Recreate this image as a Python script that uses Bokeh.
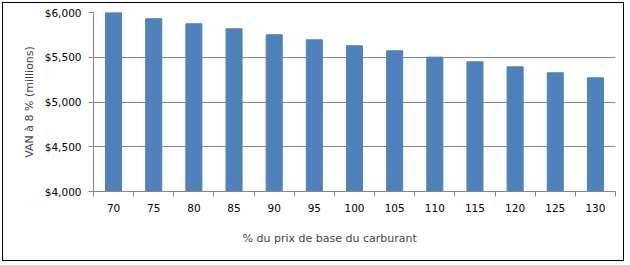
from bokeh.plotting import figure
from bokeh.models import FixedTicker, NumeralTickFormatter, Title, Range1d
from bokeh.embed import file_html
from bokeh.resources import INLINE

categories = ["70", "75", "80", "85", "90", "95", "100", "105", "110", "115", "120", "125", "130"]
van_values = [6000, 5930, 5874, 5818, 5751, 5695, 5628, 5572, 5501, 5449, 5393, 5326, 5270]
y_ticks = [4000, 4500, 5000, 5500, 6000]
x_title = "% du prix de base du carburant"
y_title = "VAN à 8 % (millions)"

xs = list(range(len(categories)))

p = figure(width=622, height=259, output_backend="svg", toolbar_location=None,
           x_range=Range1d(-0.5, len(categories) - 0.5), y_range=Range1d(4000, 6000),
           min_border_left=90, min_border_right=10, min_border_top=9, min_border_bottom=71)
p.styles = {"margin-left": "2px", "margin-top": "2px", "border": "1px solid black"}
p.outline_line_color = None
p.background_fill_color = "white"
p.border_fill_color = "white"

p.vbar(x=xs, top=van_values, bottom=4000, width=0.4, color="#4F81BD")

gray = "#868686"
# x axis
xa = p.xaxis[0]
xa.ticker = FixedTicker(ticks=xs, minor_ticks=[i - 0.5 for i in range(len(categories) + 1)])
xa.major_label_overrides = {i: c for i, c in enumerate(categories)}
xa.major_tick_line_color = None
xa.major_tick_out = 5
xa.minor_tick_out = 5
xa.minor_tick_in = 0
xa.minor_tick_line_color = gray
xa.axis_line_color = gray
xa.major_label_standoff = 7
xa.major_label_text_font = "DejaVu Sans"
xa.major_label_text_font_size = "10.5px"
xa.major_label_text_color = "black"

# y axis
ya = p.yaxis[0]
ya.ticker = FixedTicker(ticks=y_ticks)
ya.formatter = NumeralTickFormatter(format="$0,0")
ya.major_tick_out = 5
ya.major_tick_in = 0
ya.minor_tick_line_color = None
ya.major_tick_line_color = gray
ya.axis_line_color = gray
ya.major_label_standoff = 7
ya.major_label_text_font = "DejaVu Sans"
ya.major_label_text_font_size = "10.5px"
ya.major_label_text_color = "black"
ya.axis_label = y_title
ya.axis_label_text_font = "DejaVu Sans"
ya.axis_label_text_font_style = "normal"
ya.axis_label_text_font_size = "11px"
ya.axis_label_standoff = 6

p.xgrid.grid_line_color = None
p.ygrid.grid_line_color = gray
p.ygrid.grid_line_alpha = 1

p.add_layout(Title(text=x_title, align="left", offset=149, standoff=31,
                   text_font="DejaVu Sans", text_font_style="normal", text_font_size="11px"),
             "below")

open("out.html", "w").write(file_html(p, INLINE))
